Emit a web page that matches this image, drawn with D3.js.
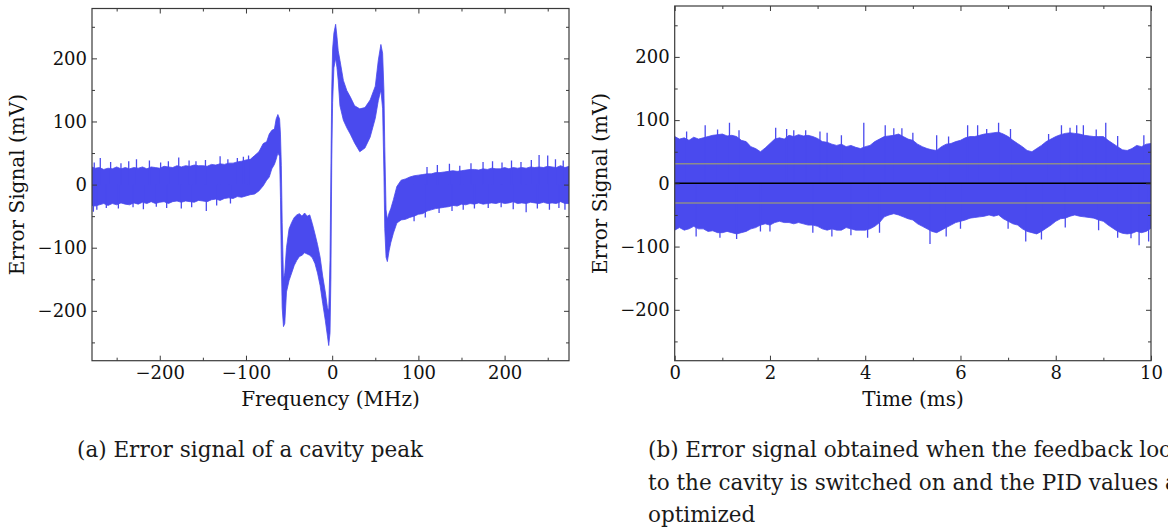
<!DOCTYPE html>
<html>
<head>
<meta charset="utf-8">
<script src="https://cdn.jsdelivr.net/npm/d3@7"></script>
<style>
  body { margin: 0; background: #fff; }
  svg { display: block; font-family: "DejaVu Serif", serif; }
</style>
</head>
<body>
<script>
// ---- panel (a): envelope of the error signal vs frequency (MHz), values in mV
const freqA = [
  -279, -275, -270, -265, -260, -255, -250, -245, -240, -235,
  -230, -225, -220, -215, -210, -205, -200, -195, -190, -185,
  -180, -175, -170, -165, -160, -155, -150, -145, -140, -135,
  -130, -125, -120, -115, -110, -105, -100, -95, -90, -85,
  -80, -76, -73, -70, -67, -65, -63, -61, -60, -59,
  -58, -56.5, -55, -53, -50, -47, -44, -41, -38, -35,
  -32, -29, -26, -23, -20, -17, -14, -11, -8, -5.5,
  -4, -2.5, -1.5, -0.5, 0.5, 2, 4, 5.5, 7, 9,
  13, 17, 21, 26, 32, 38, 44, 50, 53.5, 56.5,
  58.5, 60, 61, 62.5, 64, 66, 68, 71, 75, 80,
  85, 90, 95, 100, 105, 110, 115, 120, 125, 130,
  135, 140, 145, 150, 155, 160, 165, 170, 175, 180,
  185, 190, 195, 200, 205, 210, 215, 220, 225, 230,
  235, 240, 245, 250, 255, 260, 265, 270, 275
];
const upperA = [
  28, 26, 27, 24, 26, 25, 28, 25, 27, 25,
  27, 26, 28, 25, 28, 27, 26, 29, 28, 27,
  30, 28, 30, 29, 31, 30, 30, 29, 32, 31,
  33, 32, 34, 34, 36, 37, 39, 40, 46, 52,
  65, 68, 80, 86, 88, 104, 111, 104, 80, 30,
  -60, -150, -140, -100, -70, -60, -52, -48, -46, -50,
  -45, -50, -48, -62, -78, -95, -115, -145, -170, -195,
  -200, -120, 20, 150, 215, 240, 254, 235, 212, 197,
  165, 149, 139, 125, 120, 122, 134, 156, 197, 222,
  208, 150, 60, -40, -55, -45, -38, -24, -3, 7,
  9, 12, 14, 15, 16, 17, 17, 19, 19, 20,
  21, 22, 21, 22, 23, 24, 24, 23, 25, 24,
  26, 25, 25, 27, 25, 27, 26, 27, 26, 28,
  27, 28, 27, 29, 28, 27, 30, 27, 29
];
const lowerA = [
  -33, -34, -32, -30, -33, -30, -32, -29, -31, -32,
  -29, -31, -28, -30, -27, -30, -28, -27, -30, -27,
  -26, -28, -26, -27, -28, -25, -26, -27, -24, -23,
  -25, -22, -21, -22, -19, -20, -18, -16, -15, -10,
  -2, 7, 12, 25, 32, 40, 50, 45, -20, -120,
  -195, -225, -220, -170, -152, -140, -128, -120, -114, -112,
  -108, -110, -112, -116, -125, -140, -160, -188, -215, -240,
  -255, -235, -150, 40, 130, 185, 200, 186, 165, 125,
  102, 90, 80, 66, 52, 58, 75, 105, 133, 150,
  120, 20, -70, -115, -122, -105, -92, -77, -61, -56,
  -55, -52, -50, -47, -46, -42, -40, -38, -37, -36,
  -35, -33, -34, -31, -32, -30, -31, -29, -31, -30,
  -29, -30, -28, -30, -29, -27, -30, -29, -30, -28,
  -29, -30, -28, -30, -29, -30, -27, -30, -30
];
// single noise spikes sticking out of the band
const spikeUpFreqA = [
  -276, -269, -257, -245, -236, -227, -212, -199, -190, -178,
  -166, -158, -147, -130, -121, -110, -103, -97,
  110, 122, 136, 148, 161, 175, 186, 197, 208, 219,
  231, 240, 250, 259, 268
];
const spikeUpValA = [
  35, 42, 36, 34, 37, 40, 38, 35, 37, 43,
  38, 37, 39, 45, 40, 42, 44, 46,
  28, 31, 33, 30, 34, 36, 37, 35, 38, 36,
  39, 47, 46, 40, 38
];
const spikeDownFreqA = [
  -277, -273, -262, -248, -231, -219, -204, -192, -175, -163,
  -146, -134, -118,
  95, 108, 124, 139, 152, 165, 181, 196, 210, 225,
  238, 252, 263, 270
];
const spikeDownValA = [
  -43, -40, -37, -38, -36, -39, -35, -37, -38, -36,
  -42, -33, -30,
  -58, -52, -45, -42, -40, -38, -37, -36, -39, -44,
  -38, -40, -37, -40
];

// ---- panel (b): envelope of the locked error signal vs time (ms)
const timeB = [
  0, 0.1, 0.2, 0.3, 0.4, 0.5, 0.6, 0.7, 0.8, 0.9,
  1, 1.1, 1.2, 1.3, 1.4, 1.5, 1.6, 1.7, 1.8, 1.9,
  2, 2.1, 2.2, 2.3, 2.4, 2.5, 2.6, 2.7, 2.8, 2.9,
  3, 3.1, 3.2, 3.3, 3.4, 3.5, 3.6, 3.7, 3.8, 3.9,
  4, 4.1, 4.2, 4.3, 4.4, 4.5, 4.6, 4.7, 4.8, 4.9,
  5, 5.1, 5.2, 5.3, 5.4, 5.5, 5.6, 5.7, 5.8, 5.9,
  6, 6.1, 6.2, 6.3, 6.4, 6.5, 6.6, 6.7, 6.8, 6.9,
  7, 7.1, 7.2, 7.3, 7.4, 7.5, 7.6, 7.7, 7.8, 7.9,
  8, 8.1, 8.2, 8.3, 8.4, 8.5, 8.6, 8.7, 8.8, 8.9,
  9, 9.1, 9.2, 9.3, 9.4, 9.5, 9.6, 9.7, 9.8, 9.9,
  10
];
const upperB = [
  74, 70, 72, 68, 73, 70, 72, 74, 76, 77,
  78, 75, 76, 74, 68, 66, 58, 55, 50, 56,
  63, 70, 72, 70, 76, 74, 77, 75, 76, 74,
  71, 66, 65, 62, 60, 62, 58, 60, 57, 55,
  58, 60, 66, 70, 74, 75, 76, 78, 74, 70,
  68, 62, 58, 55, 53, 52, 58, 62, 63, 66,
  68, 72, 74, 74, 76, 78, 79, 80, 81, 78,
  74, 68, 63, 58, 52, 50, 55, 60, 66, 70,
  74, 77, 79, 80, 79, 78, 76, 75, 74, 74,
  74, 68, 63, 58, 53, 52, 55, 60, 58, 62,
  63
];
const lowerB = [
  -74, -70, -74, -72, -68, -72, -72, -76, -75, -78,
  -78, -76, -78, -80, -78, -76, -72, -70, -66, -64,
  -66, -62, -60, -62, -62, -64, -62, -64, -66, -66,
  -68, -72, -74, -72, -74, -74, -70, -72, -74, -74,
  -74, -72, -68, -62, -53, -50, -48, -50, -53, -56,
  -58, -64, -68, -72, -76, -78, -74, -70, -66, -62,
  -60, -58, -55, -54, -53, -52, -50, -52, -50, -56,
  -60, -64, -66, -72, -76, -78, -80, -76, -71, -66,
  -60, -56, -55, -52, -50, -52, -53, -54, -55, -58,
  -60, -66, -71, -76, -79, -80, -79, -76, -78, -76,
  -71
];
const spikeUpTimeB = [
  0.25, 0.64, 0.9, 1.15, 1.35, 2.12, 2.35, 2.5, 2.75, 3.05,
  3.2, 3.5, 3.97, 4.42, 4.6, 4.77, 5.0, 5.5, 5.75, 6.15,
  6.36, 6.55, 6.8, 7.05, 7.85, 8.12, 8.3, 8.44, 8.58, 8.85,
  9.05, 9.3, 9.85
];
const spikeUpValB = [
  82, 92, 85, 96, 84, 88, 86, 84, 84, 82,
  80, 76, 96, 92, 87, 87, 80, 76, 74, 92,
  92, 86, 96, 86, 78, 92, 88, 92, 92, 85,
  96, 75, 76
];
const spikeDownTimeB = [
  0.45, 0.95, 1.3, 1.8, 2.0, 2.9, 3.3, 3.7, 4.05, 4.3,
  5.36, 5.7, 6.0, 7.0, 7.37, 7.7, 8.2, 8.9, 9.3, 9.58,
  9.75, 9.95
];
const spikeDownValB = [
  -84, -86, -88, -76, -76, -78, -84, -82, -86, -78,
  -96, -84, -72, -72, -92, -89, -70, -74, -86, -87,
  -98, -92
];
const refLevelsB = [31, -31];   // grey reference lines (mV)
const zeroLevelB = [0];         // black zero line

// ticks
const xTicksA = [-200, -100, 0, 100, 200];
const xMinorA = [-250, -150, -50, 50, 150, 250];
const xTicksB = [0, 2, 4, 6, 8, 10];
const xMinorB = [1, 3, 5, 7, 9];
const yTicks = [-200, -100, 0, 100, 200];
const yMinor = [-250, -150, -50, 50, 150, 250];

// labels
const yLabel = 'Error Signal (mV)';
const xLabelA = 'Frequency (MHz)';
const xLabelB = 'Time (ms)';
const captionA = ['(a) Error signal of a cavity peak'];
const captionB = [
  '(b) Error signal obtained when the feedback loop',
  'to the cavity is switched on and the PID values are',
  'optimized'
];

const width = 1168;
const height = 530;
const blue = '#4a4aee';
const frameColor = '#3a3a3a';

const svg = d3.select('body').append('svg').attr('width', width).attr('height', height);

// scales
const xA = d3.scaleLinear().domain([-278.6, 274.7]).range([92, 569]);
const yA = d3.scaleLinear().domain([-279, 279]).range([360.7, 8.5]);
const xB = d3.scaleLinear().domain([0, 10]).range([674.7, 1151]);
const yB = d3.scaleLinear().domain([-280.5, 280.5]).range([360.7, 6]);

// axes on all four sides, ticks pointing in
const renderAxes = (selection, x, y, xTicks, xMinor) => {
  const [x0, x1] = x.range();
  const [yb, yt] = y.range();
  const fmt = d3.format('d');

  const style = (g) => {
    g.select('.domain').remove();
    g.selectAll('line').attr('stroke', frameColor).attr('stroke-width', 1);
    g.attr('font-family', null).attr('font-size', 18);
    g.selectAll('text').attr('fill', '#111');
  };

  const add = (axis, tx, ty) =>
    selection.append('g').attr('transform', `translate(${tx},${ty})`).call(axis).call(style);

  // bottom
  add(d3.axisBottom(x).tickValues(xMinor).tickSize(-3).tickFormat(''), 0, yb);
  add(d3.axisBottom(x).tickValues(xTicks).tickSize(-5).tickPadding(6).tickFormat(fmt), 0, yb);
  // top
  add(d3.axisTop(x).tickValues(xMinor).tickSize(-3).tickFormat(''), 0, yt);
  add(d3.axisTop(x).tickValues(xTicks).tickSize(-5).tickFormat(''), 0, yt);
  // left
  add(d3.axisLeft(y).tickValues(yMinor).tickSize(-3).tickFormat(''), x0, 0);
  add(d3.axisLeft(y).tickValues(yTicks).tickSize(-5).tickPadding(5).tickFormat(fmt), x0, 0);
  // right
  add(d3.axisRight(y).tickValues(yMinor).tickSize(-3).tickFormat(''), x1, 0);
  add(d3.axisRight(y).tickValues(yTicks).tickSize(-5).tickFormat(''), x1, 0);

  // frame
  selection.append('rect')
    .attr('x', x0).attr('y', yt)
    .attr('width', x1 - x0).attr('height', yb - yt)
    .attr('fill', 'none')
    .attr('stroke', frameColor)
    .attr('stroke-width', 1.2);
};

const clip = (id, x, y) => {
  svg.append('clipPath').attr('id', id)
    .append('rect')
    .attr('x', x.range()[0]).attr('y', y.range()[1])
    .attr('width', x.range()[1] - x.range()[0])
    .attr('height', y.range()[0] - y.range()[1]);
};
clip('clip-a', xA, yA);
clip('clip-b', xB, yB);

// band + spikes for one panel
const renderSignal = (selection, x, y, xs, upper, lower, spikes) => {
  const area = d3.area()
    .x((d) => x(d))
    .y0((d, i) => y(lower[i]))
    .y1((d, i) => y(upper[i]));

  selection.append('path')
    .datum(xs)
    .attr('d', area)
    .attr('fill', blue)
    .attr('stroke', blue)
    .attr('stroke-width', 0.8);

  spikes.forEach(([pos, val]) => {
    selection.append('g')
      .selectAll('line')
      .data(pos)
      .join('line')
        .attr('x1', (d) => x(d))
        .attr('x2', (d) => x(d))
        .attr('y1', y(0))
        .attr('y2', (d, i) => y(val[i]))
        .attr('stroke', blue)
        .attr('stroke-width', 1.3);
  });
};

svg.append('g').attr('clip-path', 'url(#clip-a)')
  .call(renderSignal, xA, yA, freqA, upperA, lowerA,
    [[spikeUpFreqA, spikeUpValA], [spikeDownFreqA, spikeDownValA]]);

svg.append('g').attr('clip-path', 'url(#clip-b)')
  .call(renderSignal, xB, yB, timeB, upperB, lowerB,
    [[spikeUpTimeB, spikeUpValB], [spikeDownTimeB, spikeDownValB]]);

// reference lines in panel (b)
const hLine = (level) => d3.line()([[xB.domain()[0], level], [xB.domain()[1], level]].map(([t, v]) => [xB(t), yB(v)]));

svg.append('g')
  .selectAll('path')
  .data(refLevelsB)
  .join('path')
    .attr('d', hLine)
    .attr('stroke', '#8c8c8c')
    .attr('stroke-width', 1.5)
    .attr('fill', 'none');

svg.append('g')
  .selectAll('path')
  .data(zeroLevelB)
  .join('path')
    .attr('d', hLine)
    .attr('stroke', '#000')
    .attr('stroke-width', 1.5)
    .attr('fill', 'none');

svg.append('g').call(renderAxes, xA, yA, xTicksA, xMinorA);
svg.append('g').call(renderAxes, xB, yB, xTicksB, xMinorB);

// axis titles
const axisTitle = (x, y, text, rotate) =>
  svg.append('text')
    .attr('transform', `translate(${x},${y})` + (rotate ? ' rotate(-90)' : ''))
    .attr('text-anchor', 'middle')
    .attr('dy', '0.35em')
    .attr('font-size', 20)
    .attr('fill', '#111')
    .text(text);

axisTitle(330.5, 399, xLabelA, false);
axisTitle(913, 399, xLabelB, false);
axisTitle(17, 184.6, yLabel, true);
axisTitle(600, 183.4, yLabel, true);

// captions
const caption = (x, y0, lines) =>
  svg.append('text')
    .attr('font-size', 21.5)
    .attr('fill', '#1a1a1a')
    .selectAll('tspan')
    .data(lines)
    .join('tspan')
      .attr('x', x)
      .attr('y', (d, i) => y0 + i * 32.5)
      .text((d) => d);

caption(77, 457, captionA);
caption(648, 457, captionB);
</script>
</body>
</html>
